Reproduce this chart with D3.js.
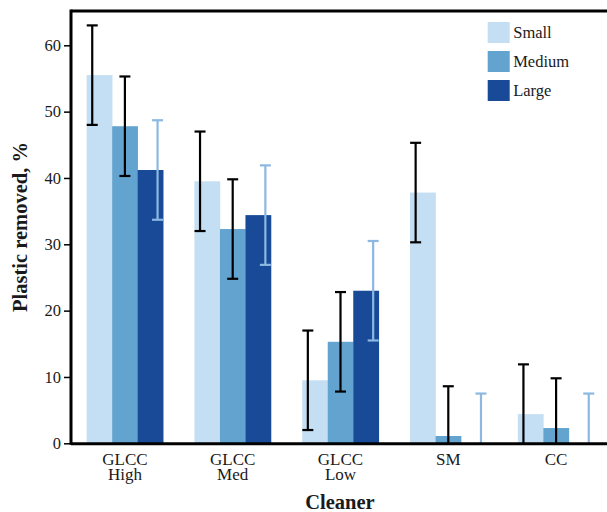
<!DOCTYPE html>
<html><head><meta charset="utf-8">
<script src="https://cdn.jsdelivr.net/npm/d3@7"></script>
<style>
html,body{margin:0;padding:0;background:#fff;}
svg{display:block;}
svg text{font-family:"Liberation Serif","Times New Roman",Times,serif !important;fill:#1a1a1a;}
</style></head>
<body><svg id="c" width="607" height="512"></svg>
<script>
const categories = ["GLCC\nHigh","GLCC\nMed","GLCC\nLow","SM","CC"];
const seriesNames = ["Small","Medium","Large"];
const smallValues  = [55.5, 39.5, 9.5, 37.8, 4.4];
const mediumValues = [47.8, 32.3, 15.3, 1.1, 2.3];
const largeValues  = [41.2, 34.4, 23.0, 0, 0];
const smallErr  = [7.5, 7.5, 7.5, 7.5, 7.5];
const mediumErr = [7.5, 7.5, 7.5, 7.5, 7.5];
const largeErr  = [7.5, 7.5, 7.5, 7.5, 7.5];
const yTicks = [0,10,20,30,40,50,60];

const values = [smallValues, mediumValues, largeValues];
const errs = [smallErr, mediumErr, largeErr];
const colors = ["#c4dff3","#63a3cf","#184a97"];
const errColors = ["#000","#000","#8cb8e2"];

const svg = d3.select("#c");
const plotLeft = 71, plotRight = 610, plotBottom = 443.3;
const y = d3.scaleLinear().domain([0,60]).range([plotBottom,45.3]);
const plotTop = y(65.17);
const x0 = d3.scaleBand().domain(categories).range([plotLeft,plotRight]).padding(0);
const step = x0.step();
const x1 = d3.scaleBand().domain(seriesNames).range([-0.355*step, 0.355*step]).padding(0);
const xe = d3.scalePoint().domain(seriesNames).range([-0.303*step, 0.303*step]);

const data = [];
categories.forEach((c,i)=>seriesNames.forEach((s,j)=>data.push({c,s,j,v:values[j][i],e:errs[j][i]})));

const g = svg.append("g");
g.selectAll("rect.bar").data(data).enter().append("rect")
  .attr("x", d=>x0(d.c)+step/2+x1(d.s))
  .attr("width", x1.bandwidth()+0.3)
  .attr("y", d=>y(d.v))
  .attr("height", d=>plotBottom-y(d.v))
  .attr("fill", d=>colors[d.j]);

const capW = 11;
const eg = g.selectAll("g.err").data(data).enter().append("g")
  .attr("stroke", d=>errColors[d.j]).attr("stroke-width",2.2);
eg.append("line")
  .attr("x1", d=>x0(d.c)+step/2+xe(d.s)).attr("x2", d=>x0(d.c)+step/2+xe(d.s))
  .attr("y1", d=>y(Math.max(0,d.v-d.e))).attr("y2", d=>y(d.v+d.e));
eg.append("line")
  .attr("x1", d=>x0(d.c)+step/2+xe(d.s)-capW/2).attr("x2", d=>x0(d.c)+step/2+xe(d.s)+capW/2)
  .attr("y1", d=>y(d.v+d.e)).attr("y2", d=>y(d.v+d.e));
eg.filter(d=>d.v-d.e>0).append("line")
  .attr("x1", d=>x0(d.c)+step/2+xe(d.s)-capW/2).attr("x2", d=>x0(d.c)+step/2+xe(d.s)+capW/2)
  .attr("y1", d=>y(d.v-d.e)).attr("y2", d=>y(d.v-d.e));

const yAxis = d3.axisLeft(y).tickValues(yTicks).tickSize(7).tickPadding(3);
const ya = svg.append("g").attr("transform",`translate(${plotLeft},0)`).call(yAxis);
ya.attr("font-family",null).attr("font-size",null);
ya.select(".domain").remove();
ya.selectAll(".tick line").attr("stroke","#000").attr("stroke-width",1.5);
ya.selectAll(".tick text").attr("font-size","16.5px").attr("fill","#1a1a1a");

const xAxis = d3.axisBottom(x0).tickSize(0).tickPadding(0).tickFormat("");
const xa = svg.append("g").attr("transform",`translate(0,${plotBottom})`).call(xAxis);
xa.attr("font-family",null).attr("font-size",null);
xa.select(".domain").remove();
xa.selectAll(".tick").each(function(d){
  const lines = d.split("\n");
  lines.forEach((l,k)=>d3.select(this).append("text").attr("text-anchor","middle")
    .attr("font-size","17px").attr("fill","#1a1a1a")
    .attr("x",0).attr("y",22+k*15).text(l));
});

svg.append("line").attr("x1",plotLeft).attr("x2",plotLeft).attr("y1",plotTop-1.5).attr("y2",plotBottom+1.5)
  .attr("stroke","#000").attr("stroke-width",3);
svg.append("line").attr("x1",plotLeft).attr("x2",607).attr("y1",plotTop).attr("y2",plotTop)
  .attr("stroke","#000").attr("stroke-width",3);
svg.append("line").attr("x1",plotLeft).attr("x2",607).attr("y1",plotBottom+0.5).attr("y2",plotBottom+0.5)
  .attr("stroke","#000").attr("stroke-width",3);

svg.append("text").attr("x",340).attr("y",509).attr("text-anchor","middle")
  .attr("font-size","20.5px").attr("font-weight","bold").text("Cleaner");
svg.append("text").attr("transform","translate(27,227) rotate(-90)").attr("text-anchor","middle")
  .attr("font-size","20.5px").attr("font-weight","bold").text("Plastic removed, %");

const lg = svg.append("g").attr("transform","translate(487.7,22)");
seriesNames.forEach((s,j)=>{
  lg.append("rect").attr("x",0).attr("y",j*29).attr("width",22).attr("height",21).attr("fill",colors[j]);
  lg.append("text").attr("x",25.5).attr("y",j*29+15.5).attr("font-size","16.5px").text(s);
});
</script></body></html>
